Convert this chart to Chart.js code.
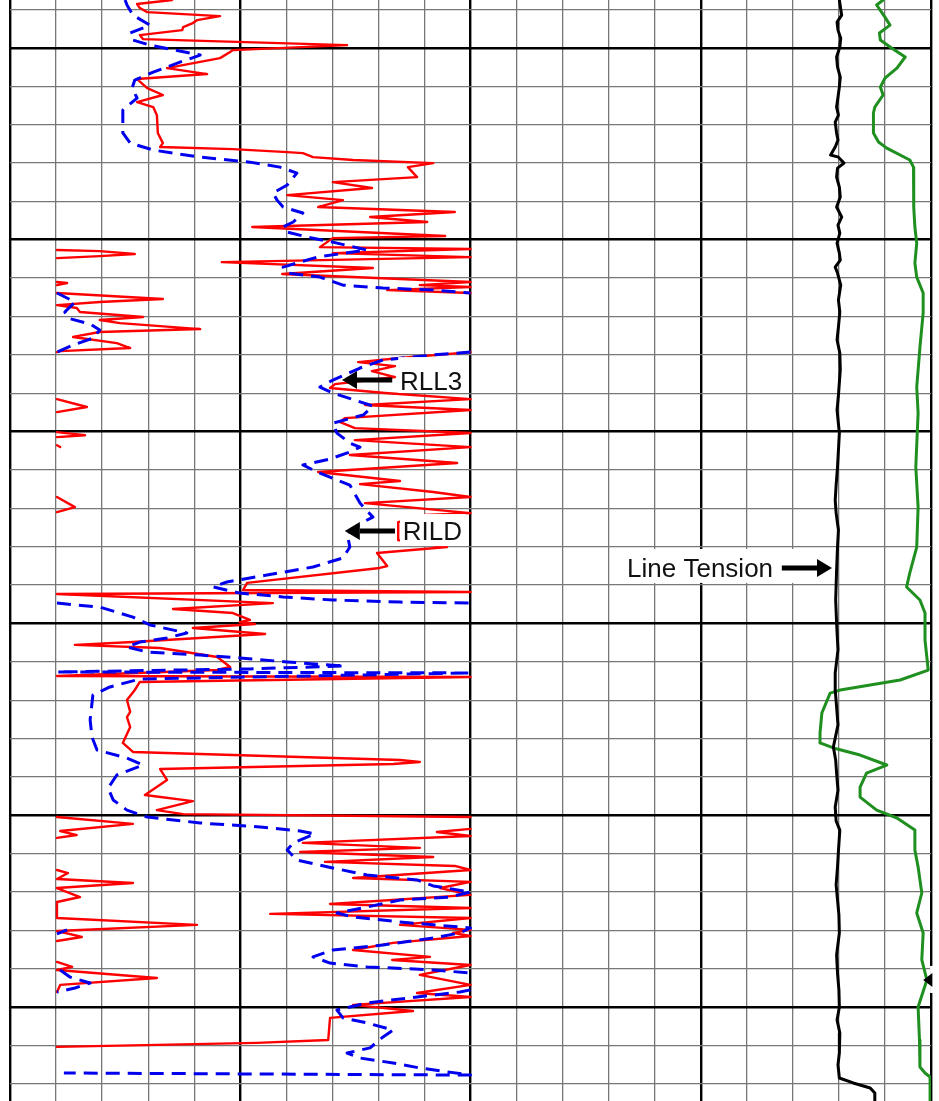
<!DOCTYPE html>
<html>
<head>
<meta charset="utf-8">
<title>Resistivity / line tension log</title>
<script src="https://cdn.jsdelivr.net/npm/chart.js@4.4.1/dist/chart.umd.min.js"></script>
<style>
  html, body { margin: 0; padding: 0; background: #fff; }
  #wrap { position: relative; width: 939px; height: 1101px; }
</style>
</head>
<body>
<div id="wrap"><canvas id="logChart"></canvas></div>
<script>
// --- DATA (depth ft, value in track units; null = break in the curve) ---

// grid lines: 20 divisions across both tracks, one line every 2 ft
const trackDivisions = [0, 10, 20, 30, 40, 50, 60, 70, 80, 90, 100,
  110, 120, 130, 140, 150, 160, 170, 180, 190, 200];
const depthLines = [4298, 4300, 4302, 4304, 4306, 4308, 4310, 4312, 4314, 4316,
  4318, 4320, 4322, 4324, 4326, 4328, 4330, 4332, 4334, 4336, 4338, 4340,
  4342, 4344, 4346, 4348, 4350, 4352, 4354];

// RLL3, left track, solid red
const rll3 = [
  [4297.51, 35.2], [4297.72, 27.6], [4297.93, 28.2], [4298.14, 29.8], [4298.35, 45.6],
  [4298.56, 40.6], [4298.71, 39.7], [4298.92, 37.6], [4299.08, 37.4], [4299.34, 28.2],
  [4299.55, 28.9], [4299.86, 73.2], [4300.12, 48.4], [4300.22, 47.8], [4300.54, 45.6],
  [4301.06, 34.1], [4301.37, 42.8], [4301.63, 27.6], [4302.10, 29.8], [4302.46, 33.2],
  [4302.83, 27.6], [4303.09, 31.1], [4303.51, 31.9], [4304.44, 32.1], [4304.97, 33.2],
  [4305.17, 32.6], [4305.28, 48.4], [4305.44, 60.2], [4305.49, 63.6], [4305.70, 65.8],
  [4305.85, 74.5], [4306.01, 91.9], [4306.22, 86.4], [4306.74, 88.4], [4307.00, 70.1],
  [4307.31, 78.6], [4307.68, 60.2], [4307.94, 72.3], [4308.30, 66.9], [4308.56, 96.6],
  [4308.82, 78.2], [4309.08, 90.6], [4309.34, 52.6], [4309.81, 94.5], [4309.92, 70.1],
  [4310.39, 67.3], [4310.49, 100], [4310.70, 70.1], [4310.91, 100], [4311.17, 46.0],
  [4311.48, 78.8], [4311.79, 59.1], [4312.21, 100], [4312.37, 89.0], [4312.47, 100],
  [4312.63, 81.9], [4312.78, 100],
  null,
  [4315.86, 100], [4316.17, 84.7], [4316.38, 75.6], [4316.59, 83.6], [4316.85, 78.6],
  [4317.16, 83.6], [4317.53, 70.6], [4317.73, 69.5], [4317.99, 81.4], [4318.31, 100],
  [4318.62, 77.1], [4318.88, 100], [4319.30, 72.7], [4319.51, 71.7], [4319.82, 74.9],
  [4320.08, 100], [4320.45, 74.9], [4320.81, 100], [4321.22, 73.8], [4321.64, 97.1],
  [4322.11, 66.9], [4322.58, 84.7], [4322.74, 76.0], [4323.15, 91.9], [4323.41, 100],
  [4323.73, 77.1], [4324.25, 100], [4324.35, 90.1], [4324.72, 84.3], [4325.66, 84.3],
  [4326.02, 94.9], [4326.33, 79.7], [4327.01, 81.9], [4327.11, 80.3], [4327.89, 51.5],
  [4328.26, 50.6], [4328.36, 100], [4328.47, 10.2], [4328.94, 57.1], [4329.25, 35.4],
  [4329.46, 48.4], [4329.82, 52.1], [4329.93, 49.9], [4330.03, 53.2], [4330.24, 39.7],
  [4330.55, 55.4], [4330.97, 26.7], [4331.12, 14.1], [4331.28, 32.6], [4331.75, 45.0],
  [4332.27, 47.8], [4332.43, 45.0], [4332.74, 10.2], [4332.79, 100], [4333.05, 28.2],
  [4333.47, 27.1], [4333.99, 25.4], [4334.61, 26.1], [4334.88, 25.4], [4335.40, 26.1],
  [4336.23, 24.5], [4336.70, 26.7], [4337.12, 84.7], [4337.22, 89.0], [4337.33, 83.2],
  [4337.59, 32.6], [4338.16, 34.1], [4338.94, 29.3], [4339.26, 39.7], [4339.73, 31.9],
  [4339.94, 37.6], [4340.09, 100],
  null,
  [4340.71, 100], [4340.87, 92.7], [4341.08, 100], [4341.44, 63.6], [4341.70, 89.0],
  [4341.91, 63.0], [4342.17, 91.9], [4342.43, 68.4], [4342.64, 96.6], [4342.85, 100],
  [4343.27, 74.5], [4343.47, 100], [4343.79, 93.4], [4344.15, 100], [4344.62, 69.5],
  [4344.83, 100], [4345.14, 56.5], [4345.35, 100], [4345.71, 84.7], [4345.97, 100],
  [4346.13, 96.2], [4346.29, 100], [4346.65, 83.2], [4347.02, 74.5], [4347.38, 91.2],
  [4347.54, 83.0], [4347.80, 100], [4348.32, 89.0], [4348.84, 100], [4349.26, 88.4],
  [4349.47, 100], [4349.88, 74.5], [4350.20, 87.5], [4350.56, 69.5], [4351.71, 69.1],
  [4351.86, 53.6], [4352.07, 10.2]
];

// RLL3 wrapped onto the backup scale (left edge of the track)
const rll3Backup = [
  [4310.54, 10.2], [4310.60, 19.5], [4310.75, 27.1], [4310.86, 19.5], [4310.96, 10.2],
  null,
  [4312.21, 10.2], [4312.26, 12.4], [4312.37, 10.2],
  null,
  [4312.78, 10.2], [4313.09, 33.2], [4313.25, 19.5], [4313.41, 10.2], [4313.56, 14.5],
  [4313.77, 15.2], [4314.03, 28.9], [4314.19, 19.5], [4314.35, 23.9], [4314.66, 41.3],
  [4314.81, 19.5], [4315.07, 13.7], [4315.39, 23.2], [4315.65, 26.1], [4315.81, 10.9],
  [4315.86, 10.2],
  null,
  [4318.31, 10.2], [4318.72, 16.7], [4318.99, 10.2],
  null,
  [4320.03, 10.2], [4320.19, 16.3], [4320.29, 10.2],
  null,
  [4320.71, 10.2], [4320.81, 10.9],
  null,
  [4323.41, 10.2], [4323.94, 14.1], [4324.20, 10.2],
  null,
  [4340.09, 10.2], [4340.45, 26.7], [4340.82, 10.9], [4341.03, 14.5], [4341.18, 10.2],
  null,
  [4342.85, 10.2], [4343.01, 12.6], [4343.32, 10.2], [4343.53, 26.7], [4343.79, 10.2],
  [4344.26, 15.2], [4344.52, 10.2], [4345.35, 10.2], [4345.71, 40.6], [4346.03, 10.2],
  [4346.34, 15.6], [4346.55, 10.2],
  null,
  [4347.64, 10.2], [4347.90, 13.5], [4348.06, 10.2], [4348.48, 31.9], [4348.84, 10.9],
  [4349.21, 10.2]
];

// RILD, left track, blue dashed
const rild = [
  [4297.51, 25.0], [4297.77, 25.4], [4298.30, 26.7], [4298.82, 30.4], [4299.23, 26.1],
  [4299.60, 26.7], [4299.86, 30.4], [4300.38, 41.3], [4300.75, 36.9], [4301.27, 31.1],
  [4301.68, 27.1], [4302.10, 26.5], [4302.62, 27.6], [4303.25, 24.5], [4304.44, 24.5],
  [4304.97, 26.1], [4305.33, 31.1], [4305.70, 41.3], [4305.96, 52.1], [4306.22, 58.6],
  [4306.53, 62.3], [4307.15, 60.2], [4307.57, 57.1], [4307.94, 58.0], [4308.30, 59.3],
  [4308.61, 63.6], [4309.08, 61.5], [4309.34, 59.3], [4309.60, 60.2], [4309.86, 64.5],
  [4310.13, 70.1], [4310.54, 77.5], [4310.91, 66.7], [4311.43, 59.3], [4311.74, 60.2],
  [4311.95, 67.3], [4312.37, 72.3], [4312.52, 81.0], [4312.63, 91.9], [4312.78, 100],
  null,
  [4315.86, 100], [4316.01, 91.9], [4316.27, 81.0], [4316.69, 76.0], [4317.32, 70.1],
  [4317.68, 67.3], [4317.99, 70.1], [4318.67, 78.8], [4319.14, 76.7], [4319.56, 70.1],
  [4320.08, 71.0], [4320.60, 73.8], [4320.81, 76.0], [4321.07, 73.8], [4321.43, 69.5],
  [4321.74, 63.6], [4322.11, 66.7], [4322.79, 73.8], [4323.73, 76.0], [4324.46, 78.8],
  [4324.72, 76.7], [4325.29, 73.2], [4326.02, 73.8], [4326.59, 72.3], [4327.06, 65.8],
  [4327.48, 55.8], [4327.84, 47.1], [4328.10, 44.1], [4328.42, 49.9], [4328.62, 59.3],
  [4328.78, 70.1], [4328.89, 84.7], [4328.94, 100],
  null,
  [4328.94, 10.2], [4329.15, 19.5], [4329.67, 26.7], [4330.08, 30.4], [4330.50, 38.4],
  [4330.76, 34.1], [4330.97, 28.2], [4331.23, 25.4], [4331.49, 29.8], [4331.65, 41.3],
  [4331.80, 49.9], [4332.01, 60.2], [4332.22, 72.7], [4332.37, 52.1], [4332.53, 10.2],
  [4332.58, 100], [4332.90, 28.2], [4333.31, 21.7], [4333.73, 18.0], [4335.03, 17.4],
  [4335.92, 17.8], [4336.60, 18.9], [4337.02, 25.4], [4337.38, 28.9], [4337.90, 23.2],
  [4338.58, 21.3], [4339.20, 22.4], [4339.73, 25.4], [4340.09, 29.8], [4340.40, 41.3],
  [4340.61, 54.3], [4340.82, 63.0], [4340.97, 66.2], [4341.44, 61.5], [4341.81, 60.2],
  [4342.33, 62.3], [4342.75, 70.1], [4343.11, 77.5], [4343.37, 88.4], [4343.68, 91.9],
  [4344.00, 100], [4344.26, 95.5], [4344.41, 84.7], [4344.78, 77.5], [4345.09, 71.0],
  [4345.30, 74.5], [4345.56, 84.7], [4345.71, 91.9], [4345.87, 100], [4346.13, 97.7],
  [4346.39, 91.9], [4346.76, 81.0], [4347.02, 70.1], [4347.38, 65.8], [4347.70, 69.5],
  [4347.90, 77.5], [4348.06, 91.9], [4348.22, 100],
  null,
  [4349.10, 100], [4349.21, 97.7], [4349.47, 88.4], [4349.78, 77.5], [4350.15, 71.0],
  [4350.56, 72.3], [4350.82, 77.5], [4351.19, 83.2], [4351.55, 81.0], [4352.12, 78.2],
  [4352.39, 73.2], [4352.65, 76.0], [4352.91, 83.2], [4353.17, 89.0], [4353.54, 100],
  [4353.43, 11.7]
];

// RILD on the backup scale
const rildBackup = [
  [4312.78, 10.2], [4313.25, 14.1], [4313.77, 11.9], [4314.09, 12.6], [4314.40, 17.4],
  [4314.71, 19.5], [4315.13, 18.0], [4315.49, 13.7], [4315.86, 10.2],
  null,
  [4345.97, 12.4], [4346.18, 10.2],
  null,
  [4348.06, 10.9], [4348.43, 13.0], [4348.74, 17.4], [4349.00, 14.1], [4349.21, 10.2]
];

// line tension, right track, black
const lineTension = [
  [4297.51, 80.1], [4298.30, 80.6], [4298.66, 79.6], [4299.08, 79.8], [4299.50, 80.4],
  [4299.96, 80.2], [4300.48, 79.5], [4301.01, 79.7], [4301.53, 80.3], [4302.05, 80.1],
  [4302.57, 79.8], [4303.09, 79.5], [4303.51, 79.9], [4303.87, 79.2], [4304.44, 79.5],
  [4304.81, 79.8], [4305.17, 79.2], [4305.59, 78.2], [4305.70, 79.9], [4306.01, 81.1],
  [4306.27, 79.7], [4306.74, 79.5], [4307.26, 80.1], [4307.78, 80.3], [4308.30, 79.5],
  [4308.82, 80.6], [4309.24, 79.8], [4309.66, 80.2], [4310.18, 79.6], [4310.70, 80.1],
  [4311.07, 80.3], [4311.43, 79.2], [4311.74, 79.7], [4312.37, 80.4], [4313.15, 79.9],
  [4313.77, 80.2], [4314.55, 79.9], [4315.23, 79.6], [4315.91, 80.2], [4316.79, 80.3],
  [4318.10, 79.9], [4318.88, 79.6], [4320.08, 80.1], [4320.97, 79.9], [4321.85, 79.7],
  [4322.79, 79.4], [4323.57, 79.2], [4324.25, 79.4], [4325.13, 79.9], [4326.02, 79.7],
  [4327.22, 79.5], [4328.78, 79.3], [4329.98, 79.5], [4331.38, 79.8], [4332.58, 79.2],
  [4333.47, 79.2], [4334.35, 79.5], [4335.29, 79.8], [4336.44, 78.8], [4337.12, 79.3],
  [4337.80, 79.5], [4338.69, 79.8], [4339.57, 79.2], [4340.30, 79.4], [4340.77, 80.2],
  [4341.86, 79.9], [4342.69, 79.7], [4343.63, 79.4], [4344.41, 79.7], [4345.19, 80.0],
  [4346.13, 80.1], [4347.28, 79.5], [4348.22, 79.7], [4349.10, 80.0], [4349.99, 80.1],
  [4350.67, 79.6], [4351.34, 80.2], [4352.39, 80.1], [4353.01, 79.8], [4353.69, 80.1],
  [4353.95, 83.1], [4354.21, 86.8], [4354.47, 87.8], [4354.89, 87.8]
];

// second right-track curve, green
const greenCurve = [
  [4297.51, 89.6], [4297.77, 88.2], [4298.40, 90.0], [4298.82, 91.1], [4299.23, 88.8],
  [4299.60, 89.0], [4300.02, 91.5], [4300.48, 94.4], [4301.06, 92.6], [4301.58, 90.0],
  [4302.05, 89.0], [4302.46, 89.6], [4303.09, 87.8], [4303.40, 87.5], [4304.44, 87.5],
  [4304.91, 88.6], [4305.23, 90.4], [4305.85, 95.4], [4306.22, 96.2], [4307.26, 96.2],
  [4308.30, 96.3], [4309.34, 96.5], [4310.18, 96.9], [4311.22, 96.5], [4311.95, 96.9],
  [4312.78, 98.3], [4313.82, 98.3], [4315.60, 97.6], [4317.68, 96.9], [4319.04, 97.2],
  [4321.85, 96.7], [4323.94, 97.2], [4326.02, 96.9], [4327.37, 95.4], [4328.10, 94.7],
  [4328.78, 97.6], [4329.46, 98.7], [4330.87, 98.7], [4332.43, 99.4], [4332.95, 93.3],
  [4333.47, 80.3], [4333.63, 78.1], [4334.67, 76.3], [4335.71, 75.9], [4336.23, 75.9],
  [4336.49, 78.8], [4336.86, 84.6], [4337.38, 90.4], [4337.80, 86.0], [4338.53, 84.6],
  [4339.05, 84.6], [4339.73, 88.2], [4340.14, 92.6], [4340.77, 96.5], [4341.81, 96.5],
  [4342.69, 97.2], [4344.05, 98.0], [4345.09, 96.9], [4346.13, 98.3], [4347.54, 98.0],
  [4348.58, 99.1], [4349.99, 97.2], [4351.71, 97.5], [4353.12, 97.6], [4353.43, 98.7],
  [4353.64, 99.8], [4354.89, 99.8]
];

// --- VIEW WINDOW AND CALLOUTS ---
const DEPTH_TOP = 4297.51;
const DEPTH_BOTTOM = 4354.89;

const callouts = [
  { text: 'RLL3', axis: 'x', depth: 4317.32, textAt: 84.7, tip: 72.1, tail: 83.0,
    box: [84.3, 99.0, 4316.12, 4317.99] },
  { text: 'RILD', axis: 'x', depth: 4325.18, textAt: 85.3, tip: 72.7, tail: 83.6,
    box: [84.7, 99.0, 4324.30, 4325.97] },
  { text: 'Line Tension', axis: 'xt', depth: 4327.11, textAt: 34.0, tip: 78.5, tail: 67.6,
    box: [31.8, 78.7, 4326.12, 4327.89] },
  { text: '', axis: 'xt', depth: 4348.58, textAt: null, tip: 98.3, tail: 100.3,
    box: [99.8, 102.0, 4347.85, 4349.26] }
];

function toPoints(pairs) {
  return pairs.map(p => p ? { x: p[1], y: p[0] } : { x: null, y: null });
}

function isMajor(value, step, base) {
  return Math.abs(Math.round(value - base) % step) < 1e-6;
}

// callouts: white box, text and arrow drawn in data coordinates
const calloutPlugin = {
  id: 'callouts',
  afterDatasetsDraw(chart) {
    const ctx = chart.ctx;
    const yScale = chart.scales.y;
    ctx.save();
    ctx.font = '26px "Liberation Sans", Arial, sans-serif';
    callouts.forEach(c => {
      const xs = chart.scales[c.axis];
      const py = yScale.getPixelForValue(c.depth);

      const bx0 = xs.getPixelForValue(c.box[0]);
      const bx1 = xs.getPixelForValue(c.box[1]);
      const by0 = yScale.getPixelForValue(c.box[2]);
      const by1 = yScale.getPixelForValue(c.box[3]);
      ctx.fillStyle = '#ffffff';
      ctx.fillRect(bx0, by0, bx1 - bx0, by1 - by0);

      if (c.text) {
        ctx.fillStyle = '#111111';
        ctx.textBaseline = 'alphabetic';
        ctx.fillText(c.text, xs.getPixelForValue(c.textAt), py + 9.5);
      }

      const tip = xs.getPixelForValue(c.tip);
      const tail = xs.getPixelForValue(c.tail);
      const dir = tail > tip ? 1 : -1;
      const headLen = Math.min(15, Math.abs(tail - tip));
      const headBase = tip + dir * headLen;
      ctx.fillStyle = '#000000';
      ctx.strokeStyle = '#000000';
      if (Math.abs(tail - headBase) > 1) {
        ctx.lineWidth = 5;
        ctx.beginPath();
        ctx.moveTo(headBase, py);
        ctx.lineTo(tail, py);
        ctx.stroke();
      }
      const half = headLen < 15 ? 7 : 9;
      ctx.beginPath();
      ctx.moveTo(tip, py);
      ctx.lineTo(headBase, py - half);
      ctx.lineTo(headBase, py + half);
      ctx.closePath();
      ctx.fill();
    });
    ctx.restore();
  }
};

function curve(label, pairs, color, width, axis, order, dash) {
  return {
    label: label,
    data: toPoints(pairs),
    xAxisID: axis,
    showLine: true,
    spanGaps: false,
    borderColor: color,
    backgroundColor: color,
    borderWidth: width,
    borderDash: dash || [],
    borderJoinStyle: 'round',
    borderCapStyle: dash ? 'butt' : 'round',
    pointRadius: 0,
    pointHoverRadius: 0,
    tension: 0,
    order: order
  };
}

const gridLine = (major) => major ? '#000000' : '#777777';

new Chart(document.getElementById('logChart'), {
  type: 'scatter',
  data: {
    datasets: [
      curve('RILD', rild, '#0000ee', 3, 'x', 1, [14, 8]),
      curve('RILD backup', rildBackup, '#0000ee', 3, 'x', 1, [14, 8]),
      curve('RLL3', rll3, '#ff0000', 2.4, 'x', 2),
      curve('RLL3 backup', rll3Backup, '#ff0000', 2.4, 'x', 2),
      curve('Line Tension', lineTension, '#000000', 3, 'xt', 3),
      curve('Green', greenCurve, '#1f8f1f', 3, 'xt', 3)
    ]
  },
  options: {
    responsive: true,
    maintainAspectRatio: false,
    animation: false,
    devicePixelRatio: 1,
    events: [],
    layout: { padding: { left: 10, right: 8, top: 0, bottom: 0 } },
    plugins: {
      legend: { display: false },
      tooltip: { enabled: false }
    },
    scales: {
      x: {
        type: 'linear',
        position: 'bottom',
        min: 0,
        max: 200,
        afterBuildTicks: (scale) => { scale.ticks = trackDivisions.map(v => ({ value: v })); },
        afterFit: (scale) => { scale.height = 0; },
        ticks: { display: false },
        border: { display: false },
        grid: {
          drawTicks: false,
          color: (c) => gridLine(c.tick && isMajor(c.tick.value, 50, 0)),
          lineWidth: (c) => (c.tick && isMajor(c.tick.value, 50, 0)) ? 2.4 : 1.3
        }
      },
      xt: {
        type: 'linear',
        display: false,
        min: -100,
        max: 100
      },
      y: {
        type: 'linear',
        position: 'left',
        reverse: true,
        min: DEPTH_TOP,
        max: DEPTH_BOTTOM,
        afterBuildTicks: (scale) => { scale.ticks = depthLines.map(v => ({ value: v })); },
        afterFit: (scale) => { scale.width = 0; },
        ticks: { display: false },
        border: { display: false },
        grid: {
          drawTicks: false,
          color: (c) => gridLine(c.tick && isMajor(c.tick.value, 10, 4300)),
          lineWidth: (c) => (c.tick && isMajor(c.tick.value, 10, 4300)) ? 2.4 : 1.3
        }
      }
    }
  },
  plugins: [calloutPlugin]
});
</script>
</body>
</html>
